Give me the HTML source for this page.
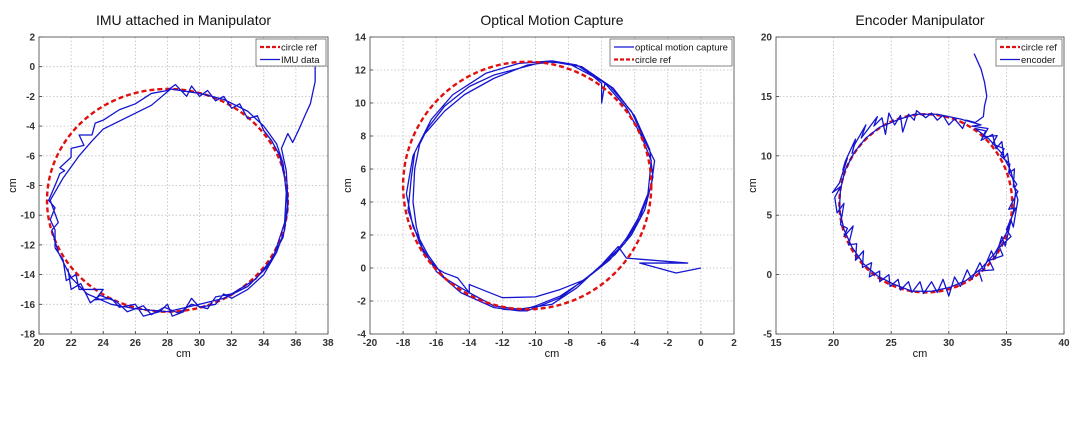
<!DOCTYPE html>
<html><head><meta charset="utf-8">
<style>
html,body{margin:0;padding:0;background:#fff;}
svg{display:block;font-family:"Liberation Sans",Arial,sans-serif;}
</style></head>
<body>
<svg id="fig" width="1080" height="438" viewBox="0 0 1080 438"></svg>
<script>
// ---------- Data ----------
const p1XTicks=[20,22,24,26,28,30,32,34,36,38];
const p1YTicks=[-18,-16,-14,-12,-10,-8,-6,-4,-2,0,2];
const p1Ref=[28,-9,7.5,7.5]; // cx, cy, rx, ry
const p1Imu=[[37.2,0],[37.2,-1],[36.9,-2.5],[36.6,-3.2],[36.2,-4.2],[35.8,-5.1],[35.5,-4.5],[35.1,-5.5],[35.4,-7],[35.5,-9],[35.3,-11],[34.8,-12.5],[34,-14],[33,-15],[32,-15.6],[31.5,-15.3],[31,-16],[30,-16.2],[29.5,-15.6],[29,-16.5],[28.3,-16.8],[28,-16],[27.5,-16.5],[26.5,-16.8],[26,-16],[25,-16.2],[24.5,-15.6],[23.5,-15.7],[24,-15],[22.5,-15],[22.3,-14],[21.7,-14.4],[21.5,-13],[21,-12.2],[21,-11],[20.7,-10.3],[21,-9.5],[20.6,-9],[21,-8],[21.3,-7.2],[21.6,-7],[21.3,-6.8],[22,-6.1],[22,-5.5],[22.8,-5.3],[22.5,-4.6],[23.3,-4.6],[23.5,-3.8],[24,-3.6],[25,-2.9],[26,-2.5],[27,-1.8],[28,-1.6],[28.5,-1.2],[29.2,-2],[29.5,-1.3],[30,-2],[30.5,-1.6],[31,-2.3],[31.5,-2],[32,-2.8],[32.5,-2.5],[33,-3.5],[33.6,-3.3],[34,-4.3],[34.5,-5],[35,-6],[35.3,-7.5],[35.5,-9.5],[35.2,-11.5],[34.2,-13.5],[33,-14.8],[31.5,-15.6],[30,-16],[28,-16.5],[26,-16.3],[24.5,-16],[23,-15.3],[22,-14.2],[21.2,-12.5],[20.8,-11],[21.2,-10.5],[20.7,-9],[21.5,-7.5],[22.5,-6],[23.3,-5],[24,-4.2],[25.5,-3.4],[27,-2.6],[28.2,-1.5],[30,-1.8],[31.5,-2.2],[33,-3],[34,-4],[34.8,-5.2],[35.2,-6.5],[35.4,-8.5],[35.3,-10.5],[34.6,-12.8],[33.5,-14.3],[32,-15.3],[31,-15.5],[30.5,-16.3],[29.5,-16],[28.7,-16.6],[27.8,-16.2],[27,-16.7],[26.5,-16.1],[25.5,-16.5],[24.8,-15.8],[23.8,-15.4],[23.2,-15.9],[22.6,-14.6],[22,-15],[21.8,-13.6]];
const p2XTicks=[-20,-18,-16,-14,-12,-10,-8,-6,-4,-2,0,2];
const p2YTicks=[-4,-2,0,2,4,6,8,10,12,14];
const p2Ref=[-10.5,5,7.5,7.5];
const p2Opt=[[0,0],[-1.5,-0.3],[-3.7,0.3],[-0.8,0.3],[-4.5,0.6],[-5,1.3],[-6,0.2],[-7,-0.7],[-8.5,-1.3],[-10,-1.75],[-12,-1.8],[-13.5,-1.2],[-14,-1],[-14,-1.5],[-14.7,-0.6],[-15.5,-0.3],[-16,0],[-16.8,1],[-17.2,2.5],[-17.4,4],[-17.3,6],[-17,7.5],[-16.5,8.5],[-15.5,9.8],[-14,11],[-12.5,11.7],[-11,12.1],[-9.5,12.5],[-8,12.4],[-6.5,11.6],[-6,11.2],[-6,10],[-5.8,11.2],[-4.5,9.7],[-3.6,8],[-3,6.5],[-3.2,4.5],[-3.8,3],[-4.5,1.8],[-5.5,0.5],[-7,-0.7],[-8.5,-1.7],[-10,-2.3],[-11,-2.6],[-12.5,-2.4],[-14.5,-1.5],[-16,-0.2],[-17,1.5],[-17.7,3.5],[-17.5,5.5],[-17.3,7],[-16.3,9],[-15,10.5],[-13,11.8],[-11,12.4],[-9,12.55],[-7.5,12.3],[-5.5,11],[-4.2,9.5],[-3.3,7.5],[-2.8,6.5],[-3,5],[-3.7,3],[-4.6,1.5],[-6,0.2],[-7.5,-1.2],[-9,-2.2],[-11,-2.5],[-12.5,-2.3],[-14,-1.5],[-15.5,-0.6],[-16.5,0.8],[-17.4,2.5],[-17.8,4.5],[-17.4,6.8],[-16.8,8],[-15.5,9.5],[-14.3,10.5],[-12.5,11.5],[-10.5,12.3],[-9,12.5],[-7.2,12.2],[-5.3,10.9],[-4,9.2],[-3.1,7.2],[-2.9,5.5],[-3.4,3.5],[-4.2,2],[-5.2,0.8],[-6.8,-0.5],[-8.5,-1.8],[-10.5,-2.6],[-12,-2.5]];
const p3XTicks=[15,20,25,30,35,40];
const p3YTicks=[-5,0,5,10,15,20];
const p3Ref=[28,6,7.5,7.5];
const p3Enc=[[32.2,18.6],[32.8,17.3],[33.1,16.2],[33.3,15],[33.1,14.2],[33,13.3],[32.3,12.8],[31.5,13],[31.2,12.3],[30.5,13.1],[30,12.6],[29.5,13.4],[29,13],[28.5,13.6],[28,13.2],[27.2,13.8],[27,13],[26.5,13.5],[26,12],[25.8,13.4],[25.3,12.6],[24.8,13.6],[24.5,11.8],[24.2,13.2],[23.5,12.5],[23.8,13.3],[22.8,12],[22.4,11.5],[22.8,12.6],[21.8,10.9],[21.6,10.2],[21.9,11.4],[21,9.5],[20.8,8.8],[21.2,9.8],[20.5,7.7],[19.9,6.9],[20.6,7.4],[20.1,6.5],[20.3,5.2],[20.9,6],[20.6,4.2],[21.2,3.9],[20.9,3.2],[21.7,4.1],[21.3,2.5],[22,2.6],[21.9,1.2],[22.6,2],[22.5,0.6],[23.3,1],[23.1,-0.2],[24,0.3],[24,-0.6],[24.8,0],[24.9,-1],[25.6,-0.4],[25.8,-1.3],[26.5,-0.6],[26.8,-1.5],[27.5,-0.6],[27.8,-1.6],[28.5,-0.6],[29,-1.5],[29.5,-0.4],[30,-1.8],[30.5,-0.2],[31,-1],[31.6,0.4],[32,-0.4],[32.7,1],[33,0.4],[33.7,2],[34,1.3],[34.6,3.2],[34.9,2.4],[35.4,4.6],[35.6,4],[36,6.3],[35.7,7.3],[35.9,7.6],[35.2,8.6],[35.3,9.3],[34.5,10],[34.8,10.6],[33.8,11],[34.2,11.7],[33,11.6],[33.4,12.3],[32,12.5],[32.8,12.6],[31,13.1],[29,13.5],[27,13.5],[25.5,13],[24,12.4],[22.8,11.5],[21.8,10.3],[21,8.8],[20.6,7.2],[20.5,5.5],[20.9,3.8],[21.6,2.3],[22.6,0.9],[23.8,-0.1],[25.2,-0.8],[26.8,-1.4],[28.5,-1.4],[30,-1.1],[31.5,-0.5],[32.8,0.5],[34,1.8],[35,3.5],[35.6,5.2],[35.8,7],[35.4,8.7],[34.6,10.2],[33.5,11.4],[32.3,12.3],[33.2,12.1],[32.8,11.3],[33.8,11.8],[34.1,10.6],[34.6,11.2],[34.8,9.8],[35.1,10.2],[35.3,8.6],[35.7,8.9],[35.6,7.4],[36,7],[35.2,5.5],[35.8,5.6],[35,3.8],[35.4,3.2],[34.4,2.3],[34.7,1.6],[33.5,1.2],[33.9,0.4],[32.6,0.3],[32.9,-0.6]];

// ---------- Drawing ----------
const NS="http://www.w3.org/2000/svg";
const svg=document.getElementById('fig');
function mk(tag,attrs,parent){const e=document.createElementNS(NS,tag);for(const k in attrs)e.setAttribute(k,attrs[k]);(parent||svg).appendChild(e);return e;}

function panel(cfg){
  const g=mk('g',{});
  
  
  const {L,R,T,B}=cfg;
  const xs=v=>L+(v-cfg.xmin)/(cfg.xmax-cfg.xmin)*(R-L);
  const ys=v=>B-(v-cfg.ymin)/(cfg.ymax-cfg.ymin)*(B-T);
  cfg.xt.forEach(t=>{const x=xs(t);
    if(t!==cfg.xmin&&t!==cfg.xmax){const l=mk('line',{x1:x,x2:x,y1:T,y2:B,stroke:'#bdbdbd','stroke-width':0.8,'stroke-dasharray':'1.5,2'},g);}
    mk('line',{x1:x,x2:x,y1:B,y2:B-3,stroke:'#333','stroke-width':0.8},g);
    const tx=mk('text',{x:x,y:B+12,'font-size':10,'font-weight':'bold','text-anchor':'middle',fill:'#333'},g);tx.textContent=t;
    
  });
  cfg.yt.forEach(t=>{const y=ys(t);
    if(t!==cfg.ymin&&t!==cfg.ymax){const l=mk('line',{x1:L,x2:R,y1:y,y2:y,stroke:'#bdbdbd','stroke-width':0.8,'stroke-dasharray':'1.5,2'},g);}
    mk('line',{x1:L,x2:L+3,y1:y,y2:y,stroke:'#333','stroke-width':0.8},g);
    const tx=mk('text',{x:L-4,y:y+3.5,'font-size':10,'font-weight':'bold','text-anchor':'end',fill:'#333'},g);tx.textContent=t;
    
  });
  const ax=mk('rect',{x:L,y:T,width:R-L,height:B-T,fill:'none',stroke:'#555','stroke-width':0.9},g);
  
  const drawRef=()=>{const [cx,cy,rx,ry]=cfg.ref;
    const e=mk('ellipse',{cx:xs(cx),cy:ys(cy),rx:Math.abs(xs(cx+rx)-xs(cx)),ry:Math.abs(ys(cy+ry)-ys(cy)),fill:'none',stroke:'#e01010','stroke-width':2.4,'stroke-dasharray':'5,3'},g);
    };
  const drawData=()=>{const p=mk('polyline',{points:cfg.data.map(d=>xs(d[0])+','+ys(d[1])).join(' '),fill:'none',stroke:'#1515d0','stroke-width':1.3,'stroke-linejoin':'round'},g);
    };
  if(cfg.refFirst){drawRef();drawData();}else{drawData();drawRef();}
  const ti=mk('text',{x:(L+R)/2,y:25,'font-size':14,'text-anchor':'middle',fill:'#111'},g);ti.textContent=cfg.title;
  
  const xl=mk('text',{x:(L+R)/2,y:B+23,'font-size':11,'text-anchor':'middle',fill:'#111'},g);xl.textContent='cm';
  
  const yl=mk('text',{x:0,y:0,'font-size':11,'text-anchor':'middle',fill:'#111',transform:`translate(${cfg.ylx},${(T+B)/2}) rotate(-90)`},g);yl.textContent='cm';
  
  const lg=mk('g',{},g);
  
  const lw=cfg.legW, lx=R-lw-2, ly=T+2;
  mk('rect',{x:lx,y:ly,width:lw,height:27,fill:'#fff',stroke:'#666','stroke-width':0.8},lg);
  cfg.legend.forEach((it,i)=>{const y=ly+8+i*12.5;
    const sl=mk('line',{x1:lx+4,x2:lx+24,y1:y,y2:y,stroke:it.red?'#e01010':'#1515d0','stroke-width':it.red?2.2:1.2,'stroke-dasharray':it.red?'4,2':'none'},lg);
    
    const t=mk('text',{x:lx+25,y:y+3.5,'font-size':9.5,fill:'#111'},lg);t.textContent=it.label;
    
  });
}

panel({name:'imu-chart',L:39,R:328,T:37,B:334,xmin:20,xmax:38,ymin:-18,ymax:2,xt:p1XTicks,yt:p1YTicks,ref:p1Ref,data:p1Imu,dataName:'imu-data-series',refFirst:true,title:'IMU attached in Manipulator',ylx:16,legW:70,legend:[{label:'circle ref',red:true},{label:'IMU data'}]});
panel({name:'optical-chart',L:370,R:734,T:37,B:334,xmin:-20,xmax:2,ymin:-4,ymax:14,xt:p2XTicks,yt:p2YTicks,ref:p2Ref,data:p2Opt,dataName:'optical-motion-capture-series',refFirst:false,title:'Optical Motion Capture',ylx:351,legW:122,legend:[{label:'optical motion capture'},{label:'circle ref',red:true}]});
panel({name:'encoder-chart',L:776,R:1064,T:37,B:334,xmin:15,xmax:40,ymin:-5,ymax:20,xt:p3XTicks,yt:p3YTicks,ref:p3Ref,data:p3Enc,dataName:'encoder-series',refFirst:true,title:'Encoder Manipulator',ylx:756,legW:66,legend:[{label:'circle ref',red:true},{label:'encoder'}]});
</script>
</body></html>
